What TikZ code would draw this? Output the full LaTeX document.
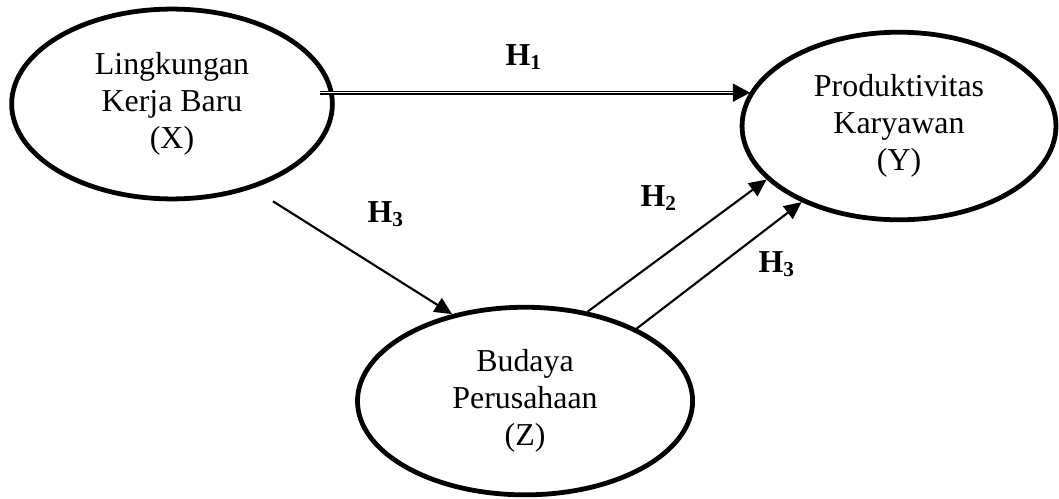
\documentclass[tikz,border=0pt]{standalone}
\usepackage{fontspec}
\setmainfont{Liberation Serif}
\usetikzlibrary{shapes.geometric, arrows.meta, positioning, calc}

\begin{document}
\begin{tikzpicture}[
  var/.style={draw, ellipse, line width=1.8pt, inner sep=0pt, align=center, font=\fontsize{12pt}{14pt}\selectfont},
  link/.style={line width=0.8pt, -{Triangle[length=0.23cm, width=0.21cm]}},
  dbllink/.style={double, line width=0.5pt, double distance=0.55pt, -{Triangle[length=0.23cm, width=0.24cm]}},
  hlabel/.style={font=\fontsize{12pt}{14pt}\selectfont\bfseries}
]
  \useasboundingbox (0,0) rectangle (14,6.584);

  % Variables
  \node[var, minimum width=4.24cm, minimum height=2.51cm] (lkb) at (2.274, 5.209) {Lingkungan\\Kerja Baru\\(X)};
  \node[var, minimum width=4.15cm, minimum height=2.48cm] (pk) at (11.885, 4.918) {Produktivitas\\Karyawan\\(Y)};
  \node[var, minimum width=4.43cm, minimum height=2.48cm] (bp) at (6.941, 1.282) {Budaya\\Perusahaan\\(Z)};

  % Hypotheses
  \draw[dbllink] ([xshift=-1.8mm]lkb.4) -- (pk.167 |- lkb.4);
  \draw[link] ([xshift=1.335cm]lkb.south) -- (bp.130);
  \draw[link] (bp.55) -- (pk.202);
  \draw[link] (bp.33) -- (pk.218);

  % Labels
  \node[hlabel] (h1) at (6.927, 5.830) {H\textsubscript{1}};
  \node[hlabel] (h2) at (8.712, 3.966) {H\textsubscript{2}};
  \node[hlabel] (h3a) at (5.103, 3.754) {H\textsubscript{3}};
  \node[hlabel] (h3b) at (10.272, 3.093) {H\textsubscript{3}};
\end{tikzpicture}
\end{document}
